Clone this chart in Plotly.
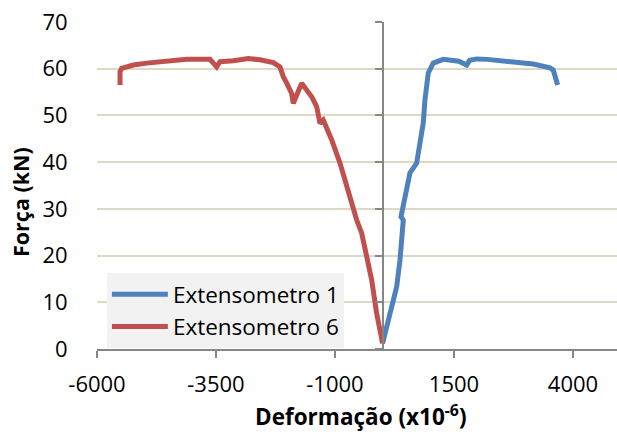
import plotly.graph_objects as go

# Extensometro 1 (blue) — strain (x10^-6), force (kN)
ext1_strain = [0, 120, 296, 365, 400, 435, 387, 491, 575, 716, 800, 855, 890, 960, 1065, 1275,
               1600, 1766, 1830, 1977, 2200, 2466, 2817, 3166, 3517, 3586, 3678]
ext1_force = [1.2, 6.2, 13.3, 19.0, 24.0, 27.6, 28.3, 34.0, 37.7, 39.8, 44.8, 48.4, 53.3, 59.1, 61.2, 62.0,
              61.6, 60.8, 61.8, 62.1, 62.0, 61.7, 61.2, 61.0, 60.2, 59.7, 56.5]

# Extensometro 6 (red)
ext6_strain = [0, -124, -229, -334, -439, -544, -754, -895, -1070, -1246, -1315, -1385, -1489, -1700,
               -1876, -1910, -2015, -2086, -2156, -2296, -2576, -2821, -3136, -3416, -3486, -3626,
               -4116, -4536, -4956, -5236, -5481, -5516, -5516]
ext6_force = [1.2, 7.6, 14.8, 20.5, 24.8, 27.6, 34.8, 39.8, 44.8, 49.0, 48.3, 51.9, 54.0, 56.9,
              52.6, 54.7, 56.9, 58.3, 60.4, 61.3, 61.9, 62.2, 61.7, 61.5, 60.4, 62.0,
              62.0, 61.7, 61.2, 60.8, 60.1, 59.4, 56.5]

x_ticks = [-6000, -3500, -1000, 1500, 4000]
x_ticklabels = ["-6000", "-3500", "-1000", "1500", "4000"]
y_ticks = [0, 10, 20, 30, 40, 50, 60, 70]

XMIN, XMAX = -6000, 4925
FONT = "Open Sans"

fig = go.Figure()
fig.add_trace(go.Scatter(x=ext1_strain, y=ext1_force, mode="lines", name="Extensometro 1",
                         line=dict(color="#4f81bd", width=5)))
fig.add_trace(go.Scatter(x=ext6_strain, y=ext6_force, mode="lines", name="Extensometro 6",
                         line=dict(color="#c0504d", width=5)))
# invisible trace to carry the y-axis line at x=0
fig.add_trace(go.Scatter(x=[0], y=[0], yaxis="y2", mode="lines", showlegend=False,
                         hoverinfo="skip", line=dict(width=0)))

fig.update_layout(
    width=617, height=434,
    margin=dict(l=97, r=0, t=22, b=85),
    paper_bgcolor="white", plot_bgcolor="white",
    font=dict(family=FONT, size=22, color="black"),
    xaxis=dict(range=[XMIN, XMAX], tickvals=x_ticks, ticktext=x_ticklabels,
               showgrid=False, zeroline=False,
               showline=True, linecolor="#868686", linewidth=1.5,
               ticks="outside", ticklen=7, tickcolor="#868686", tickwidth=1.5,
               tickfont=dict(size=22), ticklabelstandoff=8),
    yaxis=dict(range=[0, 70], tickvals=y_ticks, showgrid=True, gridcolor="#ddd9c3", gridwidth=1.5,
               zeroline=False, showline=False, ticks="outside", ticklen=24,
               tickcolor="rgba(0,0,0,0)", tickfont=dict(size=22)),
    yaxis2=dict(range=[0, 70], tickvals=y_ticks, overlaying="y", anchor="free",
                position=(0 - XMIN) / (XMAX - XMIN), side="left",
                showline=True, linecolor="#868686", linewidth=1.5, showgrid=False, zeroline=False,
                ticks="outside", ticklen=7, tickcolor="#868686", tickwidth=1.5, showticklabels=False),
    legend=dict(x=0.019, y=0.232, xanchor="left", yanchor="top", bgcolor="#f2f2f2",
                font=dict(size=22.5), itemwidth=56, tracegroupgap=0),
    annotations=[
        dict(text="<b>Força (kN)</b>", xref="paper", yref="paper", x=(20 - 97) / 520, y=(349 - 202) / 327,
             xanchor="center", yanchor="middle", textangle=-90, showarrow=False, font=dict(size=21.5)),
        dict(text="<b>Deformação (x10<sup>-6</sup>)</b>", xref="paper", yref="paper",
             x=(361 - 97) / 520, y=(349 - 415) / 327, xanchor="center", yanchor="middle",
             showarrow=False, font=dict(size=22.5)),
    ],
)

fig.write_html("out.html")
